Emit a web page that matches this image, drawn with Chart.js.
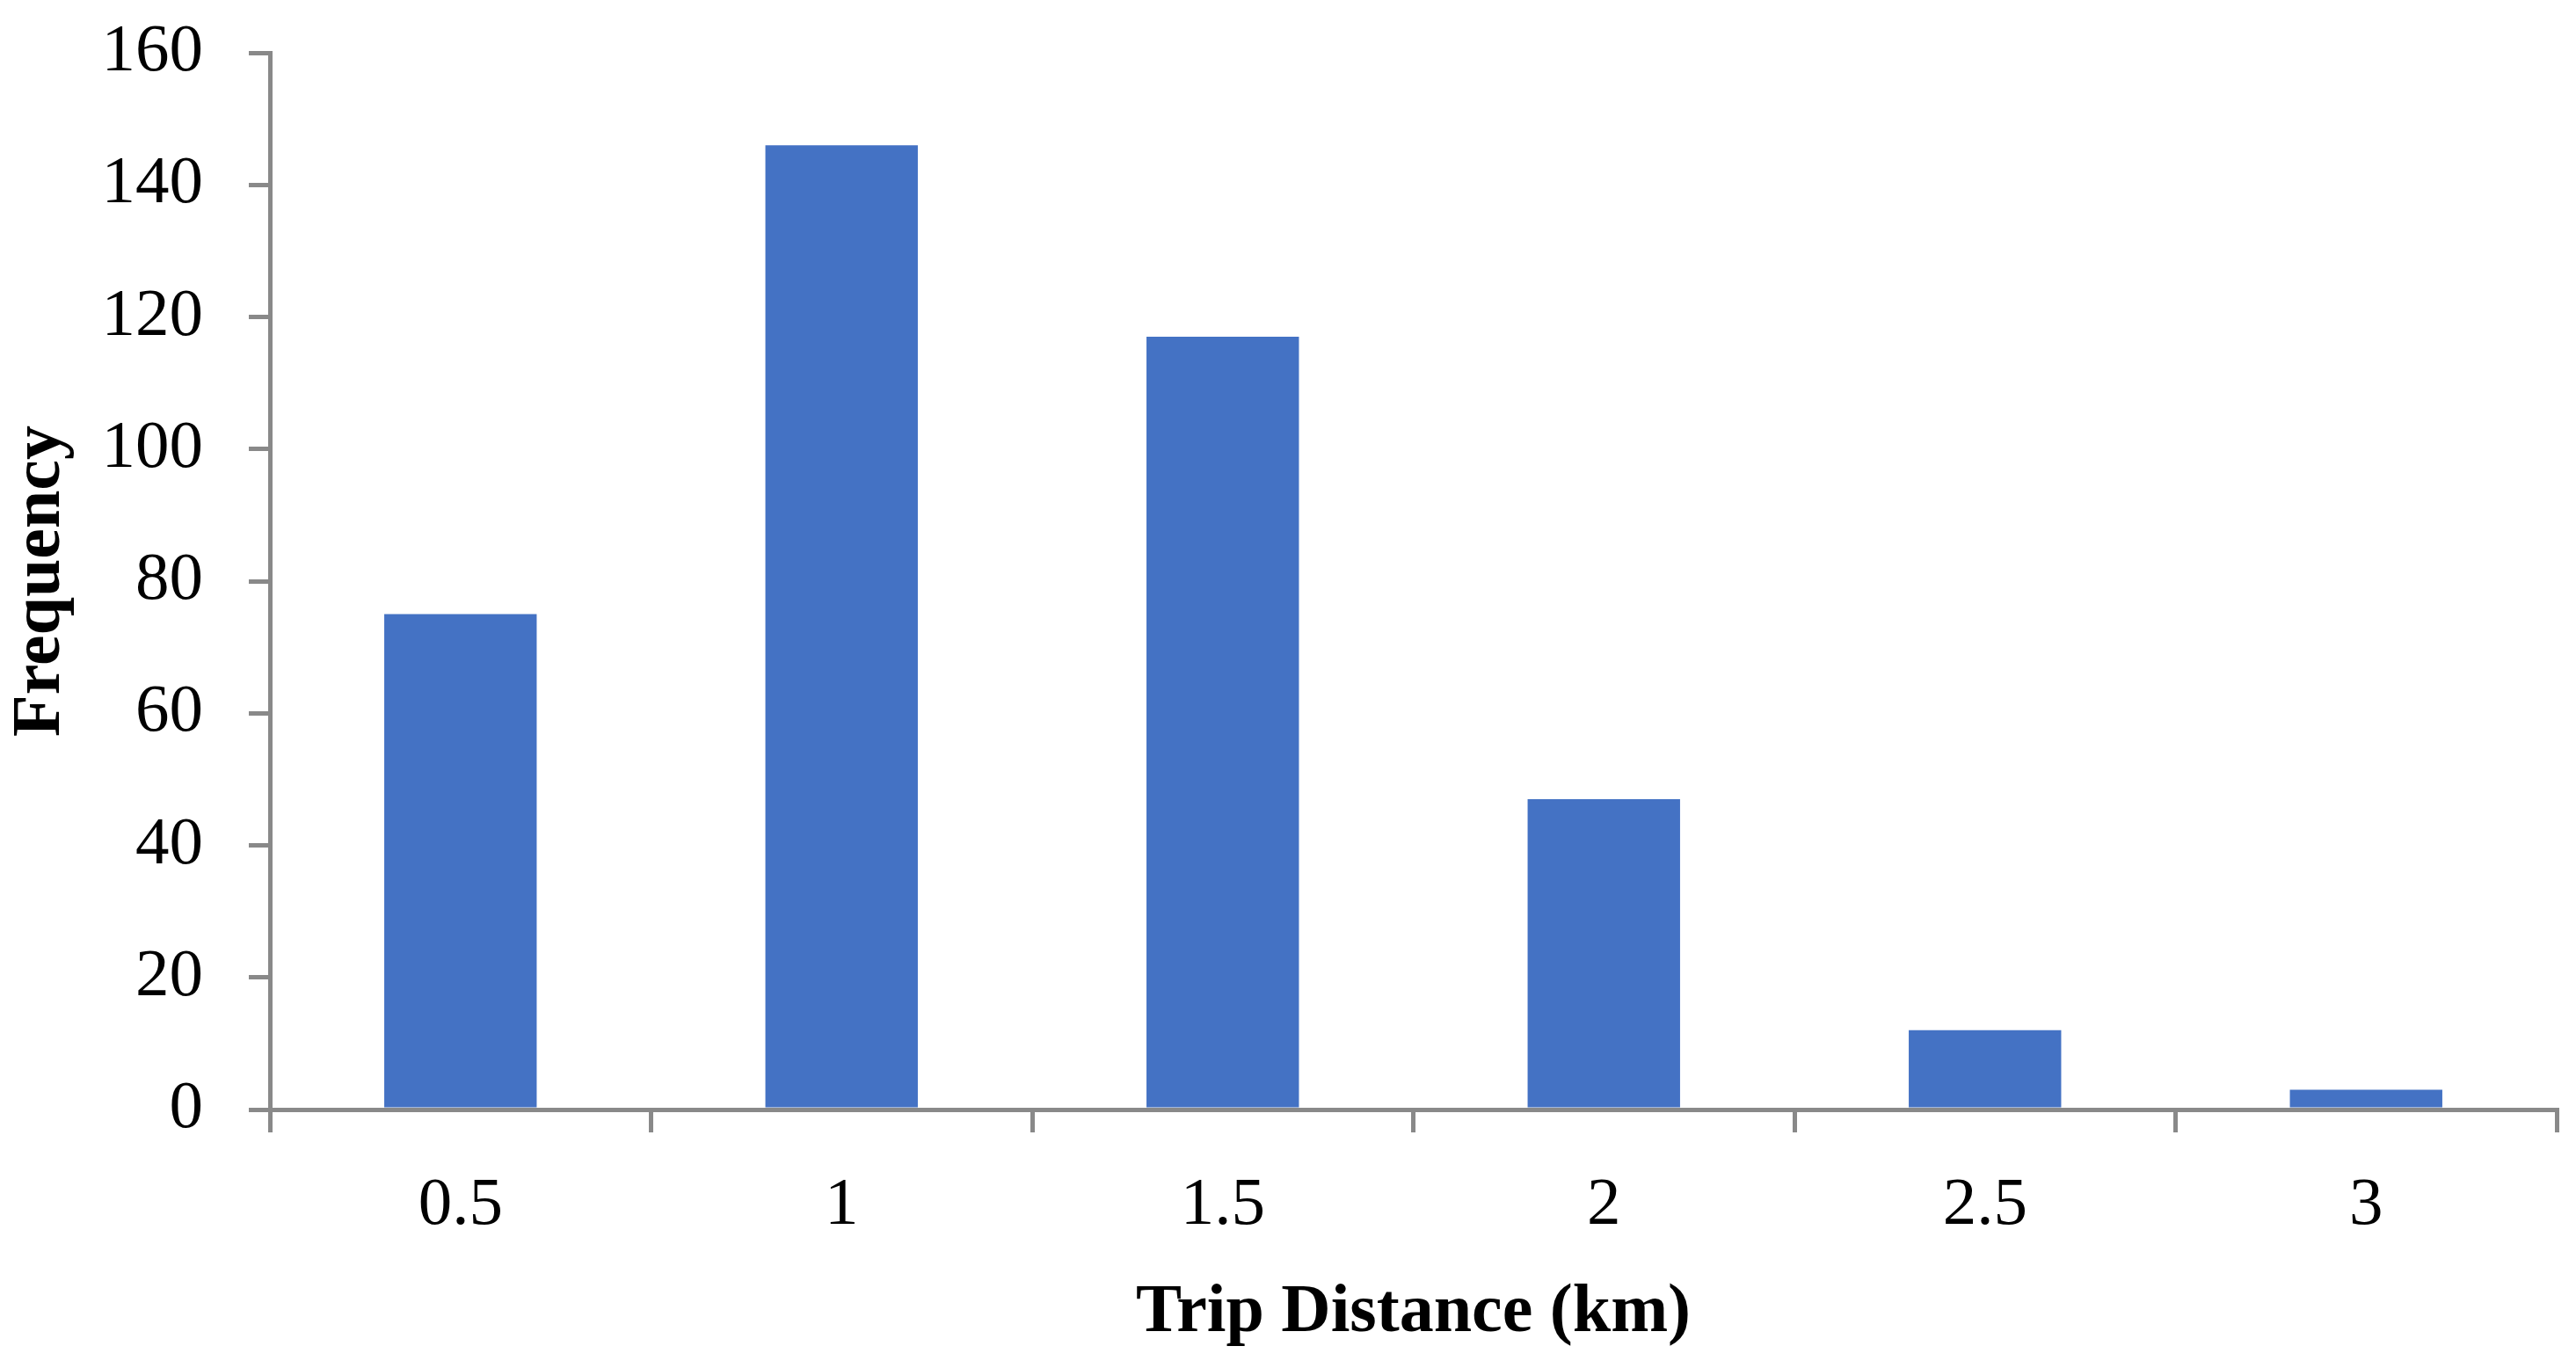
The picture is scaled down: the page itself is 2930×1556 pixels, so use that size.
<!DOCTYPE html>
<html>
<head>
<meta charset="utf-8">
<script src="https://cdn.jsdelivr.net/npm/chart.js@4"></script>
<style>
  html, body { margin: 0; padding: 0; background: #fff; }
  #wrap { width: 2930px; height: 1556px; }
</style>
</head>
<body>
<div id="wrap"><canvas id="chart" width="2930" height="1556"></canvas></div>
<script>
// data
const distances = ['0.5', '1', '1.5', '2', '2.5', '3'];
const frequency = [75, 146, 117, 47, 12, 3];
const yTicks = [0, 20, 40, 60, 80, 100, 120, 140, 160];

const axisGrey = '#898989';
const barBlue = '#4472C4';

let ctx = document.getElementById('chart').getContext('2d');

let chart = new Chart(ctx, {
  type: 'bar',
  data: {
    labels: distances,
    datasets: [{
      label: 'Frequency',
      data: frequency,
      backgroundColor: barBlue,
      borderWidth: 0,
      barPercentage: 0.4,
      categoryPercentage: 1
    }]
  },
  options: {
    responsive: false,
    animation: false,
    layout: { padding: { top: 60, right: 22, bottom: 0, left: 0 } },
    plugins: {
      legend: { display: false },
      tooltip: { enabled: false }
    },
    scales: {
      x: {
        offset: true,
        grid: {
          offset: true,
          drawOnChartArea: false,
          drawTicks: true,
          tickLength: 26,
          tickColor: axisGrey,
          lineWidth: 5
        },
        border: { color: axisGrey, width: 5 },
        ticks: {
          color: '#000',
          font: { family: 'Liberation Serif', size: 77 },
          padding: 38,
          maxRotation: 0
        },
        title: {
          display: true,
          text: 'Trip Distance (km)',
          color: '#000',
          font: { family: 'Liberation Serif', size: 78, weight: 'bold' },
          padding: { top: 0, bottom: 15 }
        },
        afterFit: (scale) => { scale.height = 294; }
      },
      y: {
        min: 0,
        max: 160,
        afterBuildTicks: (scale) => { scale.ticks = yTicks.map(v => ({ value: v })); },
        grid: {
          drawOnChartArea: false,
          drawTicks: true,
          tickLength: 24,
          tickColor: axisGrey,
          lineWidth: 5
        },
        border: { color: axisGrey, width: 5 },
        ticks: {
          color: '#000',
          font: { family: 'Liberation Serif', size: 77 },
          padding: 52
        },
        title: {
          display: true,
          text: 'Frequency',
          color: '#000',
          font: { family: 'Liberation Serif', size: 78, weight: 'bold' },
          padding: { top: 0, bottom: 0 }
        },
        afterFit: (scale) => {
          scale.width = 307;
          // let the layout padding alone decide where the plot starts
          scale.paddingTop = 0;
          scale.paddingBottom = 0;
        }
      }
    }
  }
});
</script>
</body>
</html>
